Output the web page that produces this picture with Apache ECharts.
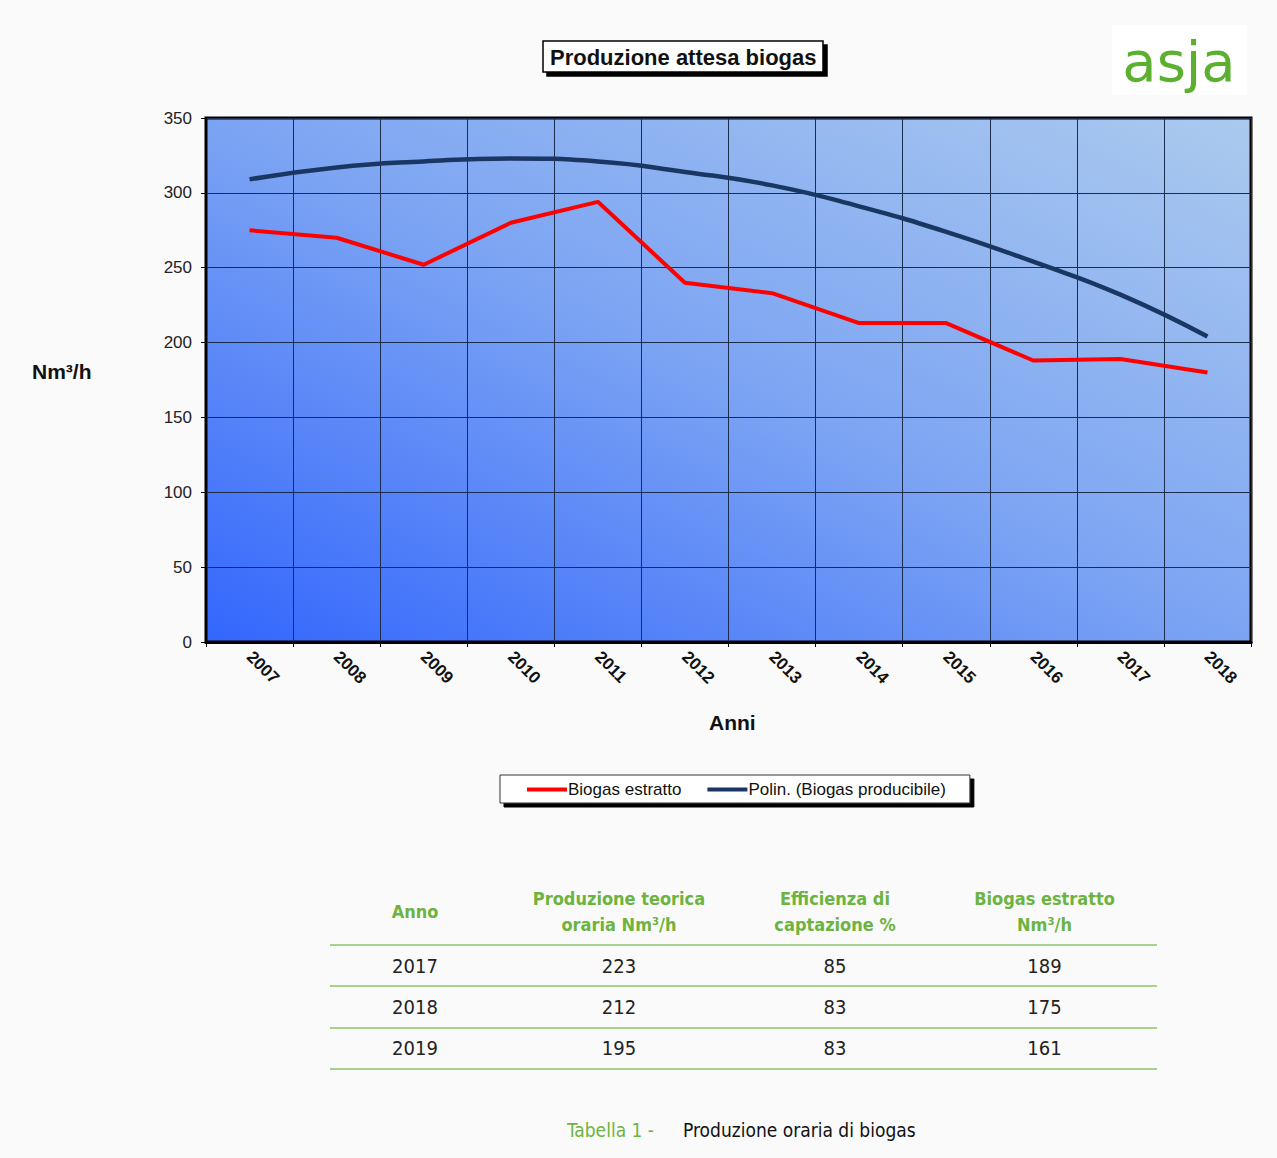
<!DOCTYPE html>
<html>
<head>
<meta charset="utf-8">
<script src="https://cdn.jsdelivr.net/npm/echarts@6/dist/echarts.min.js"></script>
<style>
  html, body { margin: 0; padding: 0; background: #fafafa; }
  #page { position: relative; width: 1277px; height: 1158px; overflow: hidden; }
  #chart { position: absolute; left: 0; top: 0; width: 1277px; height: 860px; }
  #tbl { position: absolute; left: 330px; top: 880px; border-collapse: collapse;
         font-family: "DejaVu Sans Condensed", "Liberation Sans Narrow", "DejaVu Sans", sans-serif; }
  #tbl th { color: #6db33f; font-weight: bold; font-size: 18px; line-height: 26px;
            height: 64px; padding: 0; text-align: center; vertical-align: middle;
            border-bottom: 2px solid #a9d18e; }
  #tbl td { color: #222; font-size: 20px; height: 39.3px; padding: 0; text-align: center;
            border-bottom: 2px solid #a9d18e; }
  #caption { position: absolute; top: 1119px; left: 567px; font-size: 19px;
             font-family: "DejaVu Sans Condensed", "DejaVu Sans", sans-serif; color: #111; white-space: nowrap; }
  #caption .lbl { color: #6db33f; margin-right: 29px; }
</style>
</head>
<body>
<div id="page">
  <div id="chart"></div>
  <table id="tbl"></table>
  <div id="caption"><span class="lbl">Tabella 1 -</span>Produzione oraria di biogas</div>
</div>
<script>
  // dati del grafico
  var anni = ['2007', '2008', '2009', '2010', '2011', '2012', '2013', '2014', '2015', '2016', '2017', '2018'];
  var biogasEstratto = [275, 270, 252, 280, 294, 240, 233, 213, 213, 188, 189, 180];
  var biogasProducibile = [309, 317, 321, 323, 321, 314, 305, 291, 274, 254, 232, 204];
  var yMin = 0, yMax = 350, yStep = 50;

  // dati della tabella
  var tabIntestazioni = ['Anno', 'Produzione teorica<br>oraria Nm³/h', 'Efficienza di<br>captazione %', 'Biogas estratto<br>Nm³/h'];
  var tabAnni = ['2017', '2018', '2019'];
  var tabTeorica = [223, 212, 195];
  var tabEfficienza = [85, 83, 83];
  var tabEstratto = [189, 175, 161];
  var colWidths = [170, 238, 194, 225];

  // ===== tabella =====
  (function() {
    var html = '<tr>';
    for (var i = 0; i < tabIntestazioni.length; i++) {
      html += '<th style="width:' + colWidths[i] + 'px">' + tabIntestazioni[i] + '</th>';
    }
    html += '</tr>';
    for (var r = 0; r < tabAnni.length; r++) {
      html += '<tr><td>' + tabAnni[r] + '</td><td>' + tabTeorica[r] + '</td><td>' +
        tabEfficienza[r] + '</td><td>' + tabEstratto[r] + '</td></tr>';
    }
    document.getElementById('tbl').innerHTML = html;
  })();

  // ===== grafico =====
  var chart = echarts.init(document.getElementById('chart'), null, { renderer: 'svg' });
  var font = 'Arial, "Liberation Sans", sans-serif';

  chart.setOption({
    backgroundColor: 'transparent',
    animation: false,
    title: {
      text: 'Produzione attesa biogas',
      left: 543,
      top: 41,
      padding: [5, 7, 4, 7],
      backgroundColor: '#fff',
      borderColor: '#000',
      borderWidth: 1.5,
      shadowColor: '#000',
      shadowOffsetX: 4,
      shadowOffsetY: 4,
      shadowBlur: 0,
      textStyle: { fontFamily: font, fontSize: 22, fontWeight: 'bold', color: '#111' }
    },
    legend: {
      left: 500,
      top: 775,
      padding: [6, 24, 5, 27],
      itemGap: 26,
      itemWidth: 40,
      itemHeight: 4,
      icon: 'rect',
      backgroundColor: '#fff',
      borderColor: '#333',
      borderWidth: 1,
      shadowColor: '#000',
      shadowOffsetX: 4,
      shadowOffsetY: 4,
      shadowBlur: 0,
      textStyle: { fontFamily: font, fontSize: 17, color: '#111', padding: [0, 0, 0, -4] },
      data: ['Biogas estratto', 'Polin. (Biogas producibile)']
    },
    grid: {
      left: 206,
      right: 26,
      top: 118,
      height: 524,
      show: true,
      borderColor: '#000',
      borderWidth: 3,
      backgroundColor: new echarts.graphic.LinearGradient(0, 1, 1, 0, [
        { offset: 0, color: '#3366fd' },
        { offset: 0.5, color: '#7ca4f3' },
        { offset: 1, color: '#abcaee' }
      ])
    },
    xAxis: {
      type: 'category',
      data: anni,
      boundaryGap: true,
      axisLine: { lineStyle: { color: '#000', width: 3 } },
      axisTick: { show: true, length: 5, lineStyle: { color: '#000', width: 1 } },
      axisLabel: { rotate: -45, margin: 12, fontFamily: font, fontSize: 17, fontWeight: 'bold', color: '#111' },
      splitLine: { show: true, interval: 0, lineStyle: { color: '#1c2c4c', width: 1 } }
    },
    yAxis: {
      type: 'value',
      min: yMin,
      max: yMax,
      interval: yStep,
      axisLine: { show: true, lineStyle: { color: '#000', width: 2 } },
      axisTick: { show: true, length: 5, lineStyle: { color: '#000' } },
      axisLabel: { margin: 14, fontFamily: font, fontSize: 17, color: '#222' },
      splitLine: { lineStyle: { color: '#1c2c4c', width: 1 } }
    },
    graphic: [
      {
        type: 'text', left: 32, top: 361,
        style: { text: 'Nm³/h', fontFamily: font, fontSize: 21, fontWeight: 'bold', fill: '#111' }
      },
      {
        type: 'text', left: 709, top: 712,
        style: { text: 'Anni', fontFamily: font, fontSize: 21, fontWeight: 'bold', fill: '#111' }
      },
      {
        type: 'group', left: 1112, top: 25,
        children: [
          { type: 'rect', shape: { x: 0, y: 0, width: 135, height: 70 }, style: { fill: '#fff' } },
          {
            type: 'text', x: 67, y: 36,
            style: { text: 'asja', align: 'center', verticalAlign: 'middle', fontFamily: '"DejaVu Sans", sans-serif',
                     fontSize: 56, fill: '#5bb12f' }
          }
        ]
      }
    ],
    series: [
      {
        name: 'Biogas estratto',
        type: 'line',
        data: biogasEstratto,
        showSymbol: false,
        lineStyle: { color: '#ff0000', width: 4 },
        itemStyle: { color: '#ff0000' },
        z: 3
      },
      {
        name: 'Polin. (Biogas producibile)',
        type: 'line',
        data: biogasProducibile,
        smooth: true,
        showSymbol: false,
        lineStyle: { color: '#1a3764', width: 4.5 },
        itemStyle: { color: '#1a3764' },
        z: 2
      }
    ]
  });
</script>
</body>
</html>
